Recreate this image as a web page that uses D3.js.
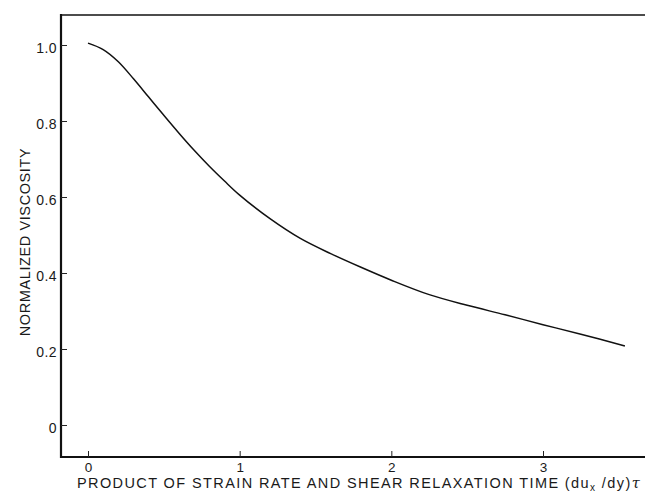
<!DOCTYPE html>
<html>
<head>
<meta charset="utf-8">
<script src="https://cdn.jsdelivr.net/npm/d3@7"></script>
<style>
  html, body { margin: 0; padding: 0; background: #fff; }
  svg { display: block; }
  text { font-family: "Liberation Sans", Arial, Helvetica, sans-serif; fill: #1a1a1a; }
</style>
</head>
<body>
<svg id="chart" width="645" height="498"></svg>
<script>
// Data
const strainTime = [0, 0.1, 0.2, 0.3, 0.4, 0.5, 0.6, 0.7, 0.8, 0.9, 1.0, 1.2, 1.4, 1.6, 1.8, 2.0, 2.25, 2.5, 2.75, 3.0, 3.25, 3.54];
const viscosity  = [1.005, 0.988, 0.956, 0.911, 0.863, 0.815, 0.768, 0.723, 0.681, 0.642, 0.605, 0.543, 0.491, 0.451, 0.415, 0.381, 0.343, 0.315, 0.290, 0.264, 0.239, 0.208];
const xTicks = [0, 1, 2, 3];
const yTicks = [0, 0.2, 0.4, 0.6, 0.8, 1.0];
const xTitle = "PRODUCT OF STRAIN RATE AND SHEAR RELAXATION TIME (du";
const yTitle = "NORMALIZED VISCOSITY";

const svg = d3.select("#chart");
const frameL = 61, frameT = 15, frameR = 645, frameB = 457;

const x = d3.scaleLinear().domain([0, 3]).range([88, 543]);
const y = d3.scaleLinear().domain([0, 1]).range([425, 45]);

// Frame lines (left, top, bottom)
svg.append("line").attr("x1", frameL).attr("x2", frameL).attr("y1", frameT - 1).attr("y2", frameB + 1)
  .attr("stroke", "#111").attr("stroke-width", 2.2);
svg.append("line").attr("x1", frameL).attr("x2", frameR).attr("y1", frameT).attr("y2", frameT)
  .attr("stroke", "#111").attr("stroke-width", 1.6);
svg.append("line").attr("x1", frameL).attr("x2", frameR).attr("y1", frameB).attr("y2", frameB)
  .attr("stroke", "#111").attr("stroke-width", 2);

// Y axis (ticks inward)
const yAxis = d3.axisLeft(y).tickValues(yTicks).tickSizeInner(-6).tickSizeOuter(0).tickPadding(4)
  .tickFormat(d => d === 0 ? "0" : d3.format(".1f")(d));
const gy = svg.append("g").attr("transform", `translate(${frameL},0)`).call(yAxis);
gy.select(".domain").remove();
gy.selectAll("line").attr("stroke", "#222").attr("stroke-width", 1);
gy.selectAll("text").attr("x", -4).attr("dy", "0.5em")
  .style("font-size", "14px").style("letter-spacing", "0.4px").attr("fill", "#1a1a1a");

// X axis (ticks inward)
const xAxis = d3.axisBottom(x).tickValues(xTicks).tickSizeInner(-6).tickSizeOuter(0).tickPadding(4)
  .tickFormat(d3.format("d"));
const gx = svg.append("g").attr("transform", `translate(0,${frameB})`).call(xAxis);
gx.select(".domain").remove();
gx.selectAll("line").attr("stroke", "#222").attr("stroke-width", 1);
gx.selectAll("text").attr("y", 5).style("font-size", "13.5px").attr("fill", "#1a1a1a");

// Curve
const pts = strainTime.map((v, i) => [v, viscosity[i]]);
const line = d3.line().x(d => x(d[0])).y(d => y(d[1])).curve(d3.curveCatmullRom.alpha(0.5));
svg.append("path").datum(pts).attr("d", line)
  .attr("fill", "none").attr("stroke", "#111").attr("stroke-width", 1.5);

// X title
const xt = svg.append("text").attr("x", 77).attr("y", 488)
  .style("font-size", "14.5px").style("letter-spacing", "0px");
xt.append("tspan").text(xTitle);
xt.append("tspan").attr("dy", 3).style("font-size", "10px").text("x");
xt.append("tspan").attr("dy", -3).text(" /dy)");
xt.append("tspan").style("font-style", "italic").style("font-family", "'DejaVu Serif', serif").text("τ");
// stretch spacing so the title spans the same width as the reference (x 77 → 642)
const w0 = xt.node().getBBox().width;
const nChars = (xTitle + "x /dy)τ").length;
xt.style("letter-spacing", ((565 - w0) / nChars) + "px");

// Y title
svg.append("text").attr("transform", "translate(30,242) rotate(-90)")
  .attr("text-anchor", "middle").style("font-size", "14.5px").style("letter-spacing", "0.6px").text(yTitle);
</script>
</body>
</html>
